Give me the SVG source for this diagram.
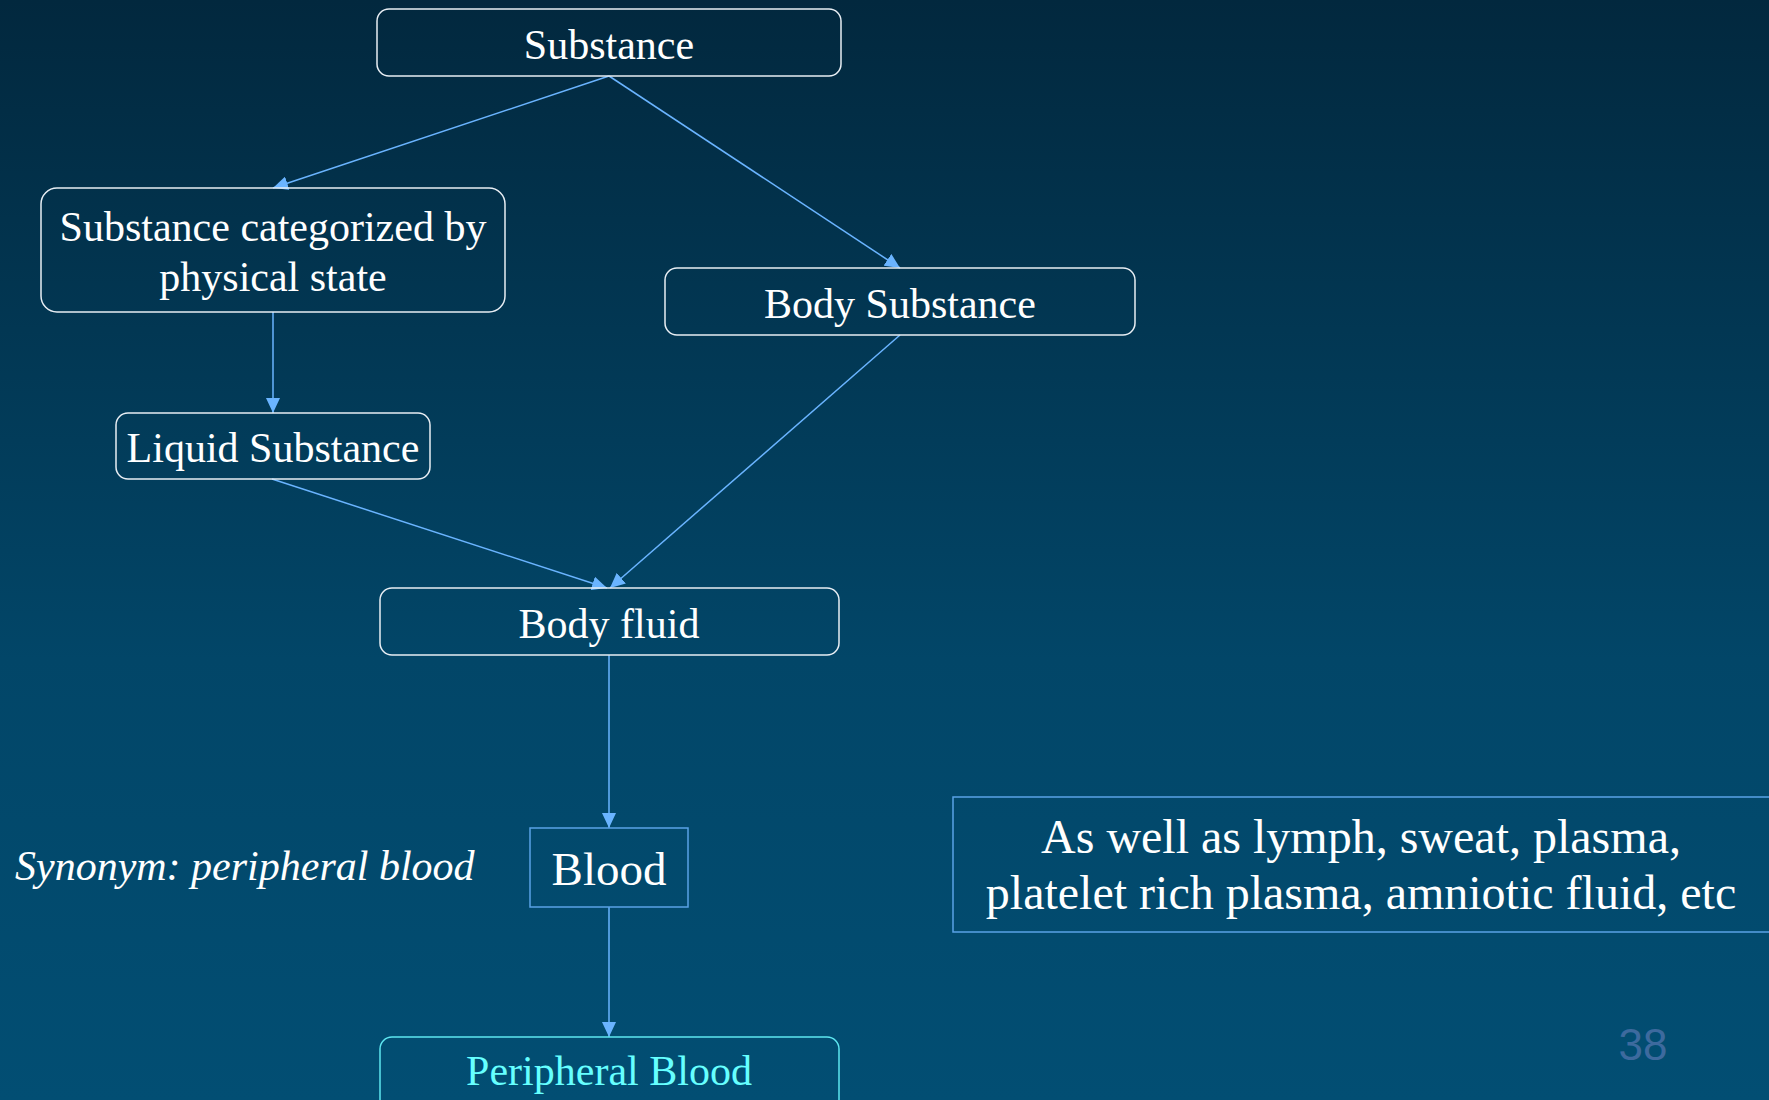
<svg xmlns="http://www.w3.org/2000/svg" width="1769" height="1100" viewBox="0 0 1769 1100">
<defs>
<linearGradient id="bg" x1="0" y1="0" x2="0" y2="1">
<stop offset="0" stop-color="#02283e"/>
<stop offset="0.6" stop-color="#024668"/>
<stop offset="1" stop-color="#024e73"/>
</linearGradient>
<marker id="ah" viewBox="0 0 15 14" refX="15" refY="7" markerWidth="15" markerHeight="14" markerUnits="userSpaceOnUse" orient="auto">
<path d="M0,0 L15,7 L0,14 Z" fill="#6ab4ff"/>
</marker>
<style>
.box{fill:none;stroke:#e8eef4;stroke-width:1.5}
.sq{fill:none;stroke:#5aa2e6;stroke-width:1.5}
.t{font-family:"Liberation Serif","Times New Roman",serif;fill:#ffffff;text-anchor:middle;font-size:42px}
.c{fill:none;stroke:#6ab4ff;stroke-width:1.5;marker-end:url(#ah)}
</style>
</defs>
<rect width="1769" height="1100" fill="url(#bg)"/>
<g id="connectors">
<line class="c" x1="609" y1="76" x2="273" y2="188"/>
<line class="c" x1="609" y1="76" x2="900" y2="268"/>
<line class="c" x1="273" y1="312" x2="273" y2="413"/>
<line class="c" x1="272" y1="479" x2="607" y2="588"/>
<line class="c" x1="900" y1="335" x2="610" y2="588"/>
<line class="c" x1="609" y1="655" x2="609" y2="828"/>
<line class="c" x1="609" y1="907" x2="609" y2="1037"/>
</g>
<g id="substance">
<rect class="box" x="377" y="9" width="464" height="67" rx="12"/>
<text class="t" x="609" y="59">Substance</text>
</g>
<g id="categorized">
<rect class="box" x="41" y="188" width="464" height="124" rx="16"/>
<text class="t" x="273" y="241">Substance categorized by</text>
<text class="t" x="273" y="291">physical state</text>
</g>
<g id="body-substance">
<rect class="box" x="665" y="268" width="470" height="67" rx="12"/>
<text class="t" x="900" y="318">Body Substance</text>
</g>
<g id="liquid">
<rect class="box" x="116" y="413" width="314" height="66" rx="12"/>
<text class="t" x="273" y="462">Liquid Substance</text>
</g>
<g id="body-fluid">
<rect class="box" x="380" y="588" width="459" height="67" rx="12"/>
<text class="t" x="609" y="638">Body fluid</text>
</g>
<g id="blood">
<rect class="sq" x="530" y="828" width="158" height="79"/>
<text class="t" x="609" y="885" style="font-size:47px">Blood</text>
</g>
<g id="synonym">
<text x="15" y="880" style="font-family:'Liberation Serif','Times New Roman',serif;font-style:italic;font-size:42px;fill:#ffffff">Synonym: peripheral blood</text>
</g>
<g id="peripheral-blood">
<rect x="380" y="1037" width="459" height="80" rx="12" fill="none" stroke="#5ee6f0" stroke-width="1.5"/>
<text class="t" x="609" y="1085" style="fill:#66ffff">Peripheral Blood</text>
</g>
<g id="note">
<rect class="sq" x="953" y="797" width="818" height="135"/>
<text class="t" x="1361" y="853" style="font-size:48px">As well as lymph, sweat, plasma,</text>
<text class="t" x="1361" y="909" style="font-size:48px">platelet rich plasma, amniotic fluid, etc</text>
</g>
<text x="1643" y="1060" text-anchor="middle" style="font-family:'Liberation Sans',Arial,sans-serif;font-size:44px;fill:#3d6a9e">38</text>
</svg>
